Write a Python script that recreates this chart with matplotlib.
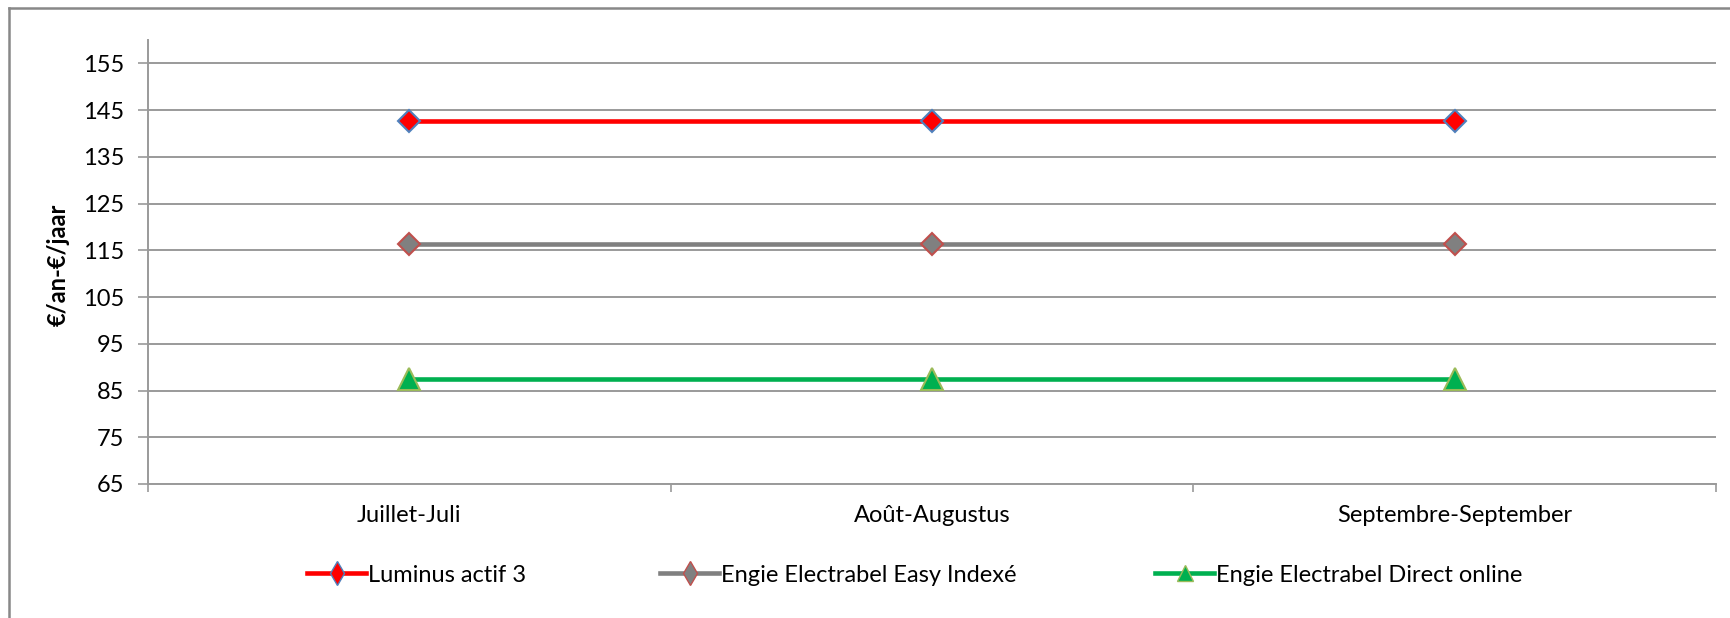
import matplotlib.pyplot as plt
from matplotlib.lines import Line2D
from matplotlib.patches import Rectangle

months = ["Juillet-Juli", "Août-Augustus", "Septembre-September"]
luminus = [142.7, 142.7, 142.7]
engie_easy = [116.4, 116.4, 116.4]
engie_direct = [87.5, 87.5, 87.5]
yticks = [65, 75, 85, 95, 105, 115, 125, 135, 145, 155]

plt.rcParams["font.family"] = ["Lato", "DejaVu Sans"]

W, H = 1730, 618
fig = plt.figure(figsize=(W / 100, H / 100), dpi=100)
ax = fig.add_axes([148 / W, 1 - 484 / H, (1716 - 148) / W, (484 - 40) / H])

x = [0.5, 1.5, 2.5]
ax.plot(x, luminus, color="#ff0000", lw=3.3, marker="D", ms=11,
        mfc="#ff0000", mec="#4f81bd", mew=1.5, zorder=5)
ax.plot(x, engie_easy, color="#808080", lw=3.3, marker="D", ms=11,
        mfc="#808080", mec="#c0504d", mew=1.5, zorder=5)
ax.plot(x, engie_direct, color="#00b050", lw=3.3, marker="^", ms=16,
        mfc="#00b050", mec="#9bbb59", mew=1.5, zorder=5)

ax.set_xlim(0, 3)
ax.set_ylim(65, 160)
ax.set_yticks(yticks)
ax.yaxis.grid(True, color="#9a9a9a", lw=1.4)
ax.set_axisbelow(True)

ax.set_xticks([0, 1, 2, 3])
ax.set_xticklabels([])
ax.set_xticks(x, minor=True)
ax.set_xticklabels(months, minor=True, fontsize=17)
ax.tick_params(axis="x", which="major", direction="out", length=6,
               color="#9a9a9a", width=1.2)
ax.tick_params(axis="x", which="minor", length=0, pad=15)
ax.tick_params(axis="y", direction="out", length=7, color="#9a9a9a",
               width=1.2, labelsize=17, pad=10)

for s in ["top", "right"]:
    ax.spines[s].set_visible(False)
for s in ["left", "bottom"]:
    ax.spines[s].set_color("#9a9a9a")
    ax.spines[s].set_linewidth(1.4)

fig.text(58 / W, 1 - 265 / H, "€/an-€/jaar", rotation=90, ha="center",
         va="center", fontsize=17, fontweight="bold")

# outer border (only top and left edges visible)
fig.add_artist(Line2D([9 / W, 1], [1 - 8 / H, 1 - 8 / H], color="#888888",
                      lw=1.8, transform=fig.transFigure))
fig.add_artist(Line2D([9 / W, 9 / W], [0, 1 - 8 / H], color="#888888",
                      lw=1.8, transform=fig.transFigure))

handles = [
    Line2D([], [], color="#ff0000", lw=3.3, marker="d", ms=12,
           mfc="#ff0000", mec="#4f81bd", mew=1),
    Line2D([], [], color="#808080", lw=3.3, marker="d", ms=12,
           mfc="#808080", mec="#c0504d", mew=1),
    Line2D([], [], color="#00b050", lw=3.3, marker="^", ms=12,
           mfc="#00b050", mec="#9bbb59", mew=1),
]
labels = ["Luminus actif 3", "Engie Electrabel Easy Indexé",
          "Engie Electrabel Direct online"]
starts = [307, 660, 1155]
for h, lab, sx in zip(handles, labels, starts):
    fig.legend([h], [lab], loc="center left",
               bbox_to_anchor=(sx / W, 1 - 575 / H), frameon=False,
               fontsize=17, handlelength=2.5, handletextpad=0.1,
               borderpad=0, borderaxespad=0)

fig.savefig("out.png", dpi=100)
